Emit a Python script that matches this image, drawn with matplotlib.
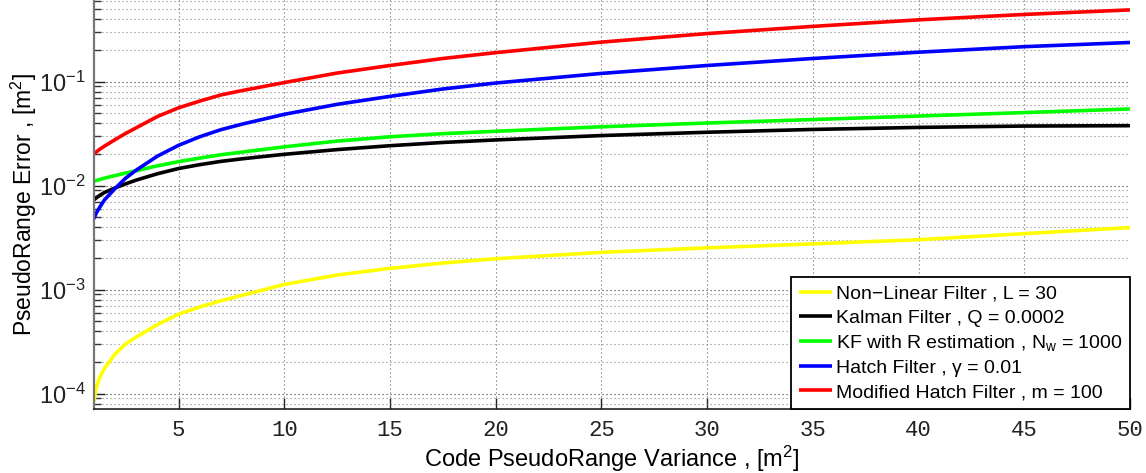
import matplotlib
matplotlib.use("Agg")
import matplotlib.pyplot as plt
import numpy as np
from matplotlib.ticker import LogLocator, FixedLocator, FuncFormatter, NullFormatter

plt.rcParams['font.family'] = ['Liberation Sans', 'DejaVu Sans']
plt.rcParams['mathtext.fontset'] = 'custom'
plt.rcParams['mathtext.rm'] = 'Liberation Sans'
plt.rcParams['mathtext.it'] = 'Liberation Sans:italic'

# code pseudorange variance [m^2]
variance = [1, 1.1, 1.25, 1.5, 2, 2.5, 3, 4, 5, 6, 7, 8, 10, 12.5, 15, 17.5, 20,
            25, 30, 35, 40, 45, 50]

# pseudorange error [m^2] for each filter
nonlinear = [8.4e-5, 1.12e-4, 1.4e-4, 1.75e-4, 2.4e-4, 3.0e-4, 3.5e-4, 4.6e-4, 5.8e-4,
             6.8e-4, 7.8e-4, 8.8e-4, 1.12e-3, 1.38e-3, 1.6e-3, 1.8e-3, 1.98e-3,
             2.28e-3, 2.52e-3, 2.75e-3, 3.02e-3, 3.45e-3, 3.95e-3]
kalman = [0.0073, 0.0076, 0.0080, 0.0086, 0.0095, 0.0104, 0.0113, 0.0130, 0.0146,
          0.0159, 0.0171, 0.0181, 0.0200, 0.0222, 0.0242, 0.0260, 0.0275,
          0.0303, 0.0326, 0.0347, 0.0363, 0.0374, 0.0377]
kf_r_est = [0.0110, 0.0112, 0.0114, 0.0118, 0.0125, 0.0132, 0.0139, 0.0155, 0.0170,
            0.0184, 0.0198, 0.0210, 0.0236, 0.0268, 0.0295, 0.0316, 0.0333,
            0.0368, 0.0400, 0.0432, 0.0467, 0.0504, 0.0546]
hatch = [0.0048, 0.0054, 0.0061, 0.0073, 0.0094, 0.0118, 0.0141, 0.0192, 0.0244,
         0.0295, 0.0345, 0.0390, 0.0485, 0.0605, 0.0722, 0.0850, 0.0970,
         0.1200, 0.1430, 0.1670, 0.1920, 0.2170, 0.2380]
mod_hatch = [0.0202, 0.0210, 0.0222, 0.0240, 0.0277, 0.0318, 0.0360, 0.0462, 0.0560,
             0.0650, 0.0745, 0.0820, 0.0980, 0.1210, 0.1430, 0.1670, 0.1900,
             0.2400, 0.2900, 0.3400, 0.3930, 0.4430, 0.4900]

series = [
    (nonlinear, '#ffff00', 'Non\u2212Linear Filter , L = 30'),
    (kalman, '#000000', 'Kalman Filter , Q = 0.0002'),
    (kf_r_est, '#00ff00', r'KF with R estimation , $\mathregular{N_w}$ = 1000'),
    (hatch, '#0000ff', 'Hatch Filter , \u03b3 = 0.01'),
    (mod_hatch, '#ff0000', 'Modified Hatch Filter , m = 100'),
]

fig = plt.figure(figsize=(11.46, 4.73), dpi=100)
ax = fig.add_axes([0.0820, 0.1353, 0.9040, 0.8647])

for vals, col, lab in series:
    ax.plot(variance, vals, color=col, lw=2.6, label=lab, solid_capstyle='butt')

ax.set_yscale('log')
ax.set_xlim(1, 50)
ax.set_ylim(7.1e-5, 0.61)

ax.xaxis.set_major_locator(FixedLocator(np.arange(5, 51, 5)))
ax.yaxis.set_major_locator(LogLocator(base=10, numticks=10))
ax.yaxis.set_minor_locator(LogLocator(base=10, subs=np.arange(2, 10), numticks=20))
ax.yaxis.set_minor_formatter(NullFormatter())
ax.yaxis.set_major_formatter(FuncFormatter(
    lambda v, p: r'$\mathregular{10^{%d}}$' % int(round(np.log10(v)))))

ax.tick_params(axis='x', which='major', direction='in', length=8, width=1,
               labelsize=16, pad=8, colors='#222222')
ax.tick_params(axis='y', which='major', direction='in', length=8, width=1,
               labelsize=17, pad=6, colors='#222222')
ax.tick_params(axis='y', which='minor', direction='in', length=5, width=1,
               colors='#333333')
plt.setp(ax.get_xticklabels(), fontfamily='Liberation Mono')

dots = (0, (1, 2.6))
ax.grid(which='major', axis='x', linestyle=dots, color='#666666', lw=0.8)
ax.grid(which='major', axis='y', linestyle=dots, color='#333333', lw=0.8)
ax.grid(which='minor', axis='y', linestyle=dots, color='#888888', lw=0.8)

ax.spines['top'].set_visible(False)
ax.spines['right'].set_visible(False)
ax.spines['left'].set_color('#777777')
ax.spines['left'].set_linewidth(1.6)
ax.spines['bottom'].set_color('#222222')
ax.spines['bottom'].set_linewidth(1.2)

ax.set_xlabel(r'Code PseudoRange Variance , $\mathregular{[m^2]}$', fontsize=17, labelpad=2)
ax.set_ylabel(r'PseudoRange Error , $\mathregular{[m^2]}$', fontsize=16.5, labelpad=0)

leg = ax.legend(loc='lower right', borderaxespad=0, fontsize=14, fancybox=False,
                edgecolor='black', framealpha=1, handlelength=1.7, handletextpad=0.2,
                borderpad=0.4, labelspacing=0.33)
leg.get_frame().set_linewidth(1.3)

fig.savefig('out.png', dpi=100)
